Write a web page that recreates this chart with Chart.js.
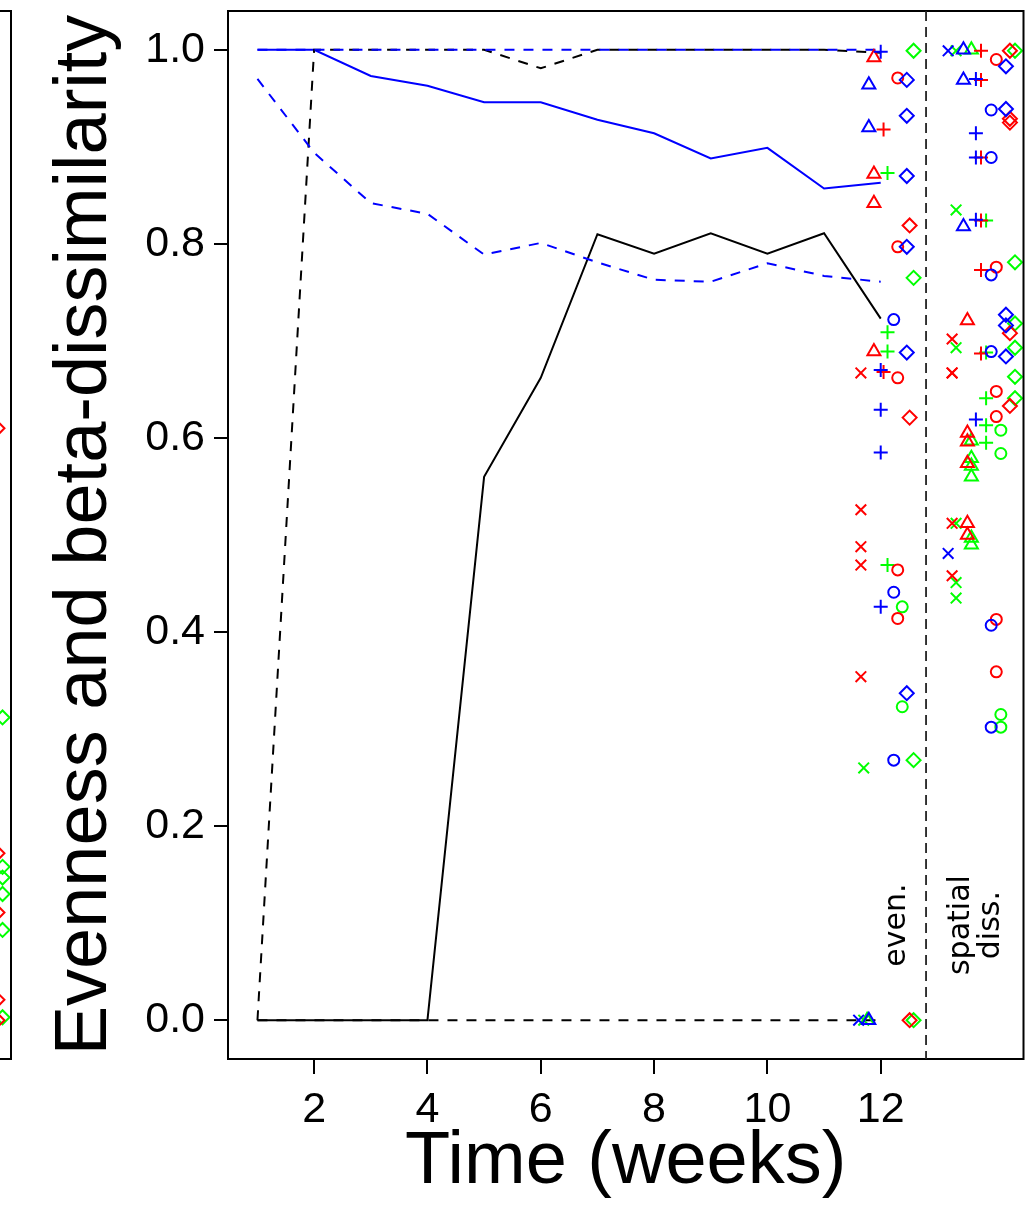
<!DOCTYPE html>
<html>
<head>
<meta charset="utf-8">
<script src="https://cdn.jsdelivr.net/npm/chart.js@4.4.1/dist/chart.umd.min.js"></script>
<style>
  html, body { margin: 0; padding: 0; background: #fff; overflow: hidden; }
  #wrap { position: relative; width: 1033px; height: 1210px; overflow: hidden; }
  #leftPanel { position: absolute; left: -790px; top: 0; }
  #mainPanel { position: absolute; left: 0; top: 0; }
</style>
</head>
<body>
<div id="wrap">
  <canvas id="leftPanel" width="810" height="1210"></canvas>
  <canvas id="mainPanel" width="1033" height="1210"></canvas>
</div>
<script>
const weeks = [1, 2, 3, 4, 5, 6, 7, 8, 9, 10, 11, 12];
const blueMean = [1.0, 1.0, 0.973, 0.963, 0.946, 0.946, 0.928, 0.914, 0.888, 0.899, 0.857, 0.863];
const blueLow = [0.970, 0.894, 0.842, 0.831, 0.789, 0.801, 0.781, 0.763, 0.761, 0.780, 0.767, 0.761];
const blueHigh = [1, 1, 1, 1, 1, 1, 1, 1, 1, 1, 1, 1];
const blackMean = [0, 0, 0, 0, 0.560, 0.662, 0.810, 0.790, 0.811, 0.790, 0.811, 0.723];
const blackLow = [0, 0, 0, 0, 0, 0, 0, 0, 0, 0, 0, 0];
const blackHigh = [0, 1, 1, 1, 1, 0.981, 1, 1, 1, 1, 1, 0.997];

const xTicks = [2, 4, 6, 8, 10, 12];
const yTicks = [0, 0.2, 0.4, 0.6, 0.8, 1.0];
const yTickLabels = ['0.0', '0.2', '0.4', '0.6', '0.8', '1.0'];

// marker order in each list: x, triangle, plus, circle, diamond
const evenBlue = [[0], [0.964, 0.920, 0], [0.998, 0.670, 0.629, 0.585, 0.426], [0.722, 0.441, 0.268], [0.969, 0.932, 0.870, 0.797, 0.688, 0.337]];
const evenRed = [[0.667, 0.526, 0.488, 0.469, 0.354], [0.992, 0.872, 0.842, 0.689], [0.918, 0.668], [0.971, 0.797, 0.662, 0.464, 0.414], [0.819, 0.621, 0]];
const evenGreen = [[0.260, 0], [0], [0.873, 0.709, 0.689, 0.469], [0.426, 0.323], [0.999, 0.765, 0.268, 0]];
const evenXBlue = [11.61, 11.79, 12.0, 12.23, 12.46];
const evenXRed = [11.65, 11.88, 12.05, 12.30, 12.51];
const evenXGreen = [11.70, 11.76, 12.12, 12.38, 12.58];

const spatialBlue = [[0.999, 0.481], [1.0, 0.969, 0.818], [0.970, 0.914, 0.889, 0.825, 0.619], [0.938, 0.889, 0.768, 0.689, 0.407, 0.302], [0.983, 0.939, 0.727, 0.716, 0.684]];
const spatialRed = [[0.702, 0.667, 0.667, 0.512, 0.458], [0.721, 0.605, 0.596, 0.574, 0.512, 0.500], [0.999, 0.969, 0.889, 0.824, 0.773, 0.687], [0.990, 0.776, 0.648, 0.622, 0.413, 0.359], [0.999, 0.929, 0.925, 0.708, 0.633]];
const spatialGreen = [[0.999, 0.835, 0.693, 0.512, 0.451, 0.435], [1.0, 0.597, 0.579, 0.571, 0.560, 0.497, 0.490], [0.824, 0.688, 0.641, 0.613, 0.595], [0.608, 0.584, 0.315, 0.302], [0.999, 0.781, 0.718, 0.693, 0.663, 0.641]];
const spatialXBlue = [13.19, 13.46, 13.68, 13.95, 14.21];
const spatialXRed = [13.26, 13.53, 13.77, 14.04, 14.28];
const spatialXGreen = [13.33, 13.60, 13.86, 14.12, 14.37];

// the neighbouring panel on the left, only its last column shows
const leftRedDiamond = [0.610, 0.172, 0.111, 0.021, 0.0];
const leftGreenDiamond = [0.312, 0.158, 0.147, 0.130, 0.093, 0.003];

const splitAt = 12.8;

const markerStyle = ['crossRot', 'triangle', 'cross', 'circle', 'rectRot'];
const markerSize = [7.5, 7.5, 7, 5.5, 7];

function lineSet(values, color, dash) {
    return {
        data: weeks.map((w, i) => ({ x: w, y: values[i] })),
        showLine: true,
        borderColor: color,
        borderWidth: 2,
        borderDash: dash,
        pointRadius: 0,
        pointHoverRadius: 0,
        fill: false,
        tension: 0
    };
}

function markerSet(ys, x, k, color) {
    return {
        data: ys.map(y => ({ x: x, y: y })),
        showLine: false,
        pointStyle: markerStyle[k],
        pointRadius: markerSize[k],
        pointHoverRadius: markerSize[k],
        pointBorderColor: color,
        pointBackgroundColor: 'rgba(0,0,0,0)',
        pointBorderWidth: 2
    };
}

function markerSets(lists, xs, color) {
    return lists.map((ys, k) => markerSet(ys, xs[k], k, color));
}

function framePlugin(withText) {
    return {
        id: 'frame' + (withText ? 'Main' : 'Left'),
        afterDatasetsDraw(chart) {
            const ctx = chart.ctx;
            const a = chart.chartArea;
            ctx.save();
            ctx.strokeStyle = '#000';
            ctx.lineWidth = 2;
            ctx.strokeRect(a.left, a.top, a.right - a.left, a.bottom - a.top);
            if (withText) {
                const xs = chart.scales.x;
                const ys = chart.scales.y;
                const sx = xs.getPixelForValue(splitAt);
                ctx.beginPath();
                ctx.setLineDash([10, 6]);
                ctx.strokeStyle = '#222';
                ctx.lineWidth = 1.8;
                ctx.moveTo(sx, a.top);
                ctx.lineTo(sx, a.bottom);
                ctx.stroke();
                ctx.setLineDash([]);
                ctx.fillStyle = '#000';
                ctx.font = '30px "DejaVu Sans"';
                ctx.textAlign = 'center';
                ctx.textBaseline = 'alphabetic';
                const ty = ys.getPixelForValue(0.098);
                const lines = [['even.', 12.42], ['spatial', 13.56], ['diss.', 14.08]];
                lines.forEach(([txt, xv]) => {
                    ctx.save();
                    ctx.translate(xs.getPixelForValue(xv), ty);
                    ctx.rotate(-Math.PI / 2);
                    ctx.fillText(txt, 0, 0);
                    ctx.restore();
                });
            }
            ctx.restore();
        }
    };
}

function zeroPad(s) {
    s.paddingTop = 0;
    s.paddingBottom = 0;
    s.paddingLeft = 0;
    s.paddingRight = 0;
}

const tickFont = { family: 'Liberation Sans', size: 43 };
const titleFont = { family: 'Liberation Sans', size: 74 };

const mainDatasets = [].concat(
    markerSets(evenBlue, evenXBlue, '#0000FF'),
    markerSets(evenRed, evenXRed, '#FF0000'),
    markerSets(evenGreen, evenXGreen, '#00FF00'),
    markerSets(spatialBlue, spatialXBlue, '#0000FF'),
    markerSets(spatialRed, spatialXRed, '#FF0000'),
    markerSets(spatialGreen, spatialXGreen, '#00FF00'),
    [
        lineSet(blueHigh, '#0000FF', [10, 9]),
        lineSet(blueLow, '#0000FF', [10, 9]),
        lineSet(blackHigh, '#000000', [10, 9]),
        lineSet(blackLow, '#000000', [10, 9]),
        lineSet(blueMean, '#0000FF', []),
        lineSet(blackMean, '#000000', [])
    ]
);

new Chart(document.getElementById('mainPanel'), {
    type: 'scatter',
    data: { datasets: mainDatasets },
    options: {
        responsive: false,
        animation: false,
        events: [],
        layout: { padding: { top: 11, right: 4, left: 0, bottom: 0 } },
        plugins: { legend: { display: false }, tooltip: { enabled: false } },
        scales: {
            x: {
                type: 'linear',
                min: 0.48,
                max: 14.52,
                afterBuildTicks: s => { s.ticks = xTicks.map(v => ({ value: v })); },
                afterFit: s => { s.height = 151; zeroPad(s); },
                border: { display: false },
                grid: { drawOnChartArea: false, drawTicks: true, tickLength: 15, color: '#000', lineWidth: 2 },
                ticks: { color: '#000', font: tickFont, padding: 10, maxRotation: 0, autoSkip: false },
                title: { display: true, text: 'Time (weeks)', color: '#000', font: titleFont, padding: { top: 0, bottom: 3 } }
            },
            y: {
                type: 'linear',
                min: -0.04,
                max: 1.04,
                afterBuildTicks: s => { s.ticks = yTicks.map(v => ({ value: v })); },
                afterFit: s => { s.width = 228; zeroPad(s); },
                border: { display: false },
                grid: { drawOnChartArea: false, drawTicks: true, tickLength: 14, color: '#000', lineWidth: 2 },
                ticks: {
                    color: '#000', font: tickFont, padding: 9, autoSkip: false,
                    callback: v => yTickLabels[yTicks.indexOf(v)]
                },
                title: { display: true, text: 'Evenness and beta-dissimilarity', color: '#000', font: titleFont, padding: { top: 41, bottom: 0 } }
            }
        }
    },
    plugins: [framePlugin(true)]
});

new Chart(document.getElementById('leftPanel'), {
    type: 'scatter',
    data: {
        datasets: [
            markerSet(leftRedDiamond, 14.28, 4, '#FF0000'),
            markerSet(leftGreenDiamond, 14.37, 4, '#00FF00')
        ]
    },
    options: {
        responsive: false,
        animation: false,
        events: [],
        layout: { padding: { top: 11, right: 9, left: 0, bottom: 151 } },
        plugins: { legend: { display: false }, tooltip: { enabled: false } },
        scales: {
            x: { type: 'linear', min: 0.48, max: 14.52, display: false },
            y: { type: 'linear', min: -0.04, max: 1.04, display: false }
        }
    },
    plugins: [framePlugin(false)]
});
</script>
</body>
</html>
